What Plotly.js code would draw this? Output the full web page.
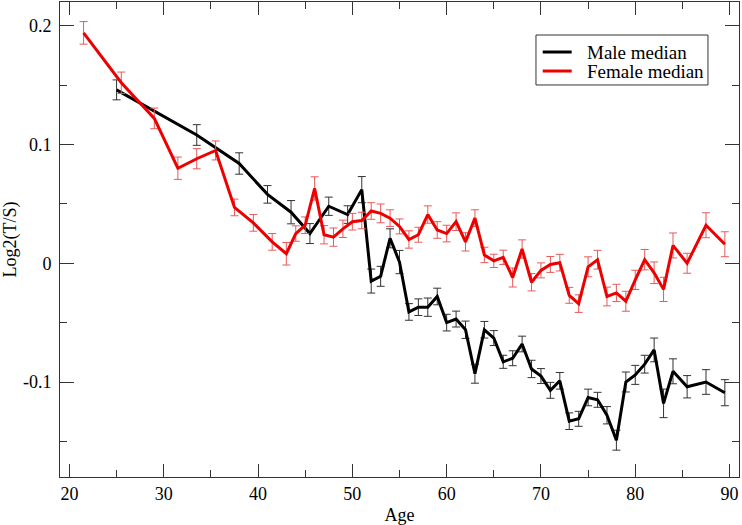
<!DOCTYPE html>
<html>
<head>
<meta charset="utf-8">
<script src="https://cdn.plot.ly/plotly-3.0.1.min.js"></script>
<style>html,body{margin:0;padding:0;background:#fff;}#chart{width:742px;height:525px;}</style>
</head>
<body>
<div id="chart"></div>
<script>
const maleAge = [25, 33.5, 38, 41, 43.5, 45.5, 47.5, 49.5, 51, 52, 53, 54, 55, 56, 57, 58, 59, 60, 61, 62, 63, 64, 65, 66, 67, 68, 69, 70, 71, 72, 73, 74, 75, 76, 77, 78, 79, 80, 81, 82, 83, 84, 85.5, 87.5, 89.5];
const maleVal = [0.146, 0.108, 0.084, 0.058, 0.043, 0.025, 0.048, 0.041, 0.062, -0.015, -0.011, 0.021, 0.001, -0.041, -0.037, -0.037, -0.028, -0.050, -0.047, -0.056, -0.093, -0.056, -0.063, -0.083, -0.080, -0.068, -0.089, -0.095, -0.107, -0.099, -0.133, -0.131, -0.113, -0.115, -0.128, -0.149, -0.100, -0.094, -0.085, -0.073, -0.118, -0.091, -0.104, -0.100, -0.109];
const maleErr = [0.0084, 0.0087, 0.009, 0.0074, 0.0098, 0.0084, 0.0077, 0.0074, 0.011, 0.0101, 0.0084, 0.008, 0.0098, 0.007, 0.007, 0.0077, 0.007, 0.007, 0.0067, 0.0073, 0.008, 0.007, 0.0063, 0.0055, 0.0063, 0.0066, 0.0073, 0.0063, 0.0067, 0.007, 0.007, 0.0063, 0.007, 0.0063, 0.0073, 0.0084, 0.0084, 0.008, 0.0075, 0.01, 0.012, 0.0105, 0.0094, 0.0104, 0.011];

const femaleAge = [21.5, 25.5, 29, 31.5, 33.5, 35.5, 37.5, 39.5, 41.5, 43, 44, 45, 46, 47, 48, 49, 50, 51, 52, 53, 54, 55, 56, 57, 58, 59, 60, 61, 62, 63, 64, 65, 66, 67, 68, 69, 70, 71, 72, 73, 74, 75, 76, 77, 78, 79, 80, 81, 82, 83, 84, 85.5, 87.5, 89.5];
const femaleVal = [0.194, 0.152, 0.122, 0.080, 0.088, 0.095, 0.047, 0.034, 0.018, 0.008, 0.025, 0.032, 0.063, 0.024, 0.022, 0.029, 0.035, 0.036, 0.044, 0.042, 0.038, 0.031, 0.020, 0.024, 0.041, 0.028, 0.025, 0.035, 0.018, 0.038, 0.007, 0.002, 0.005, -0.012, 0.012, -0.016, -0.006, -0.001, 0.0005, -0.027, -0.034, -0.003, 0.003, -0.028, -0.025, -0.032, -0.014, 0.003, -0.008, -0.022, 0.015, 0.0, 0.032, 0.016];
const femaleErr = [0.0095, 0.009, 0.0087, 0.0094, 0.0085, 0.008, 0.007, 0.007, 0.007, 0.0095, 0.0065, 0.007, 0.0098, 0.0077, 0.0077, 0.0073, 0.007, 0.007, 0.007, 0.0079, 0.007, 0.0063, 0.0073, 0.0063, 0.0073, 0.007, 0.007, 0.0074, 0.0077, 0.007, 0.0065, 0.0056, 0.006, 0.008, 0.0077, 0.0073, 0.0063, 0.0067, 0.007, 0.0067, 0.0074, 0.0084, 0.0079, 0.0079, 0.0073, 0.0084, 0.0081, 0.0086, 0.0091, 0.0102, 0.0105, 0.0084, 0.0105, 0.0105];

const seriesNames = ['Male median', 'Female median'];
const xTickVals = [20, 30, 40, 50, 60, 70, 80, 90];
const xTickText = ['20', '30', '40', '50', '60', '70', '80', '90'];
const yTickVals = [0.2, 0.1, 0, -0.1];
const yTickText = ['0.2', '0.1', '0', '-0.1'];

const serif = "'Liberation Serif', 'Times New Roman', Times, serif";
const lineColors = ['#000000', '#ee0000'];

const traces = [
  {
    x: maleAge, y: maleVal, name: seriesNames[0], type: 'scatter', mode: 'lines',
    line: {color: lineColors[0], width: 3},
    error_y: {type: 'data', array: maleErr, visible: true, color: '#333333', thickness: 1, width: 4}
  },
  {
    x: femaleAge, y: femaleVal, name: seriesNames[1], type: 'scatter', mode: 'lines',
    line: {color: lineColors[1], width: 3},
    error_y: {type: 'data', array: femaleErr, visible: true, color: '#e85a5a', thickness: 1, width: 4}
  }
];

// legend box drawn with paper-referenced shapes + real-text annotations
const legBox = {x0: 0.701, x1: 0.9543, y0: 0.8253, y1: 0.9305};
const legRowsY = [0.8947, 0.8547];
const legSample = [0.7109, 0.7536];
const legTextX = 0.7732;

const shapes = [
  {type: 'rect', xref: 'paper', yref: 'paper', x0: legBox.x0, x1: legBox.x1, y0: legBox.y0, y1: legBox.y1,
   line: {color: '#333', width: 1}, fillcolor: '#fff', layer: 'above'}
];
const annotations = [];
seriesNames.forEach((nm, i) => {
  shapes.push({type: 'line', xref: 'paper', yref: 'paper', x0: legSample[0], x1: legSample[1],
    y0: legRowsY[i], y1: legRowsY[i], line: {color: lineColors[i], width: 3}, layer: 'above'});
  annotations.push({xref: 'paper', yref: 'paper', x: legTextX, y: legRowsY[i], xanchor: 'left', yanchor: 'middle',
    text: nm, showarrow: false, font: {family: serif, size: 19, color: '#000'}});
});

const axisCommon = {
  showgrid: false, zeroline: false, showline: true, linecolor: '#333', linewidth: 1,
  mirror: 'ticks', ticks: 'inside', tickcolor: '#333', tickwidth: 1,
  tickfont: {family: serif, size: 18, color: '#000'}
};

const layout = {
  width: 742, height: 525,
  margin: {l: 60, r: 3, t: 2, b: 48},
  paper_bgcolor: '#fff', plot_bgcolor: '#fff',
  font: {family: serif},
  showlegend: false,
  shapes: shapes,
  annotations: annotations,
  xaxis: Object.assign({}, axisCommon, {
    range: [19, 91], tickmode: 'array', tickvals: xTickVals, ticktext: xTickText, ticklen: 13,
    minor: {dtick: 5, tick0: 0, ticks: 'inside', ticklen: 7, tickcolor: '#333'},
    title: {text: 'Age', font: {family: serif, size: 18, color: '#000'}, standoff: 6}
  }),
  yaxis: Object.assign({}, axisCommon, {
    range: [-0.18, 0.22], tickmode: 'array', tickvals: yTickVals, ticktext: yTickText, ticklen: 14,
    minor: {dtick: 0.05, tick0: 0, ticks: 'inside', ticklen: 7, tickcolor: '#333'},
    ticklabelstandoff: 4,
    title: {text: 'Log2(T/S)', font: {family: serif, size: 18, color: '#000'}, standoff: 6}
  })
};

Plotly.newPlot('chart', traces, layout, {displayModeBar: false, staticPlot: true});
</script>
</body>
</html>
